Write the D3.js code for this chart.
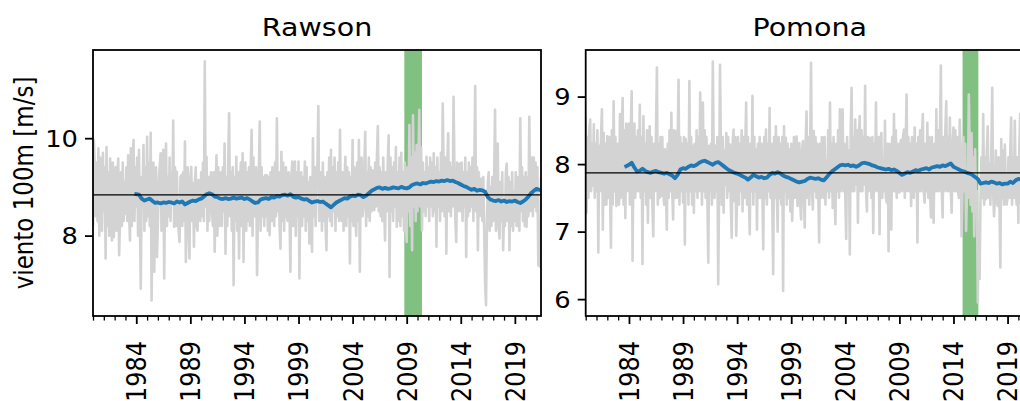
<!DOCTYPE html>
<html><head><meta charset="utf-8">
<script src="https://cdn.jsdelivr.net/npm/d3@7"></script>
<style>
html,body{margin:0;padding:0;background:#fff;}
svg{display:block;font-family:"DejaVu Sans",sans-serif;}
</style>
</head><body>
<svg id="chart" width="1020" height="401"></svg>
<script>
// ---------------- DATA ----------------
const startYear = 1980;            // monthly series start (Jan 1980)
const endYear = 2021.4167;         // last month shown (Jun 2021)
const titles = ["Rawson", "Pomona"];
const yLabel = "viento 100m [m/s]";
const majorYears = [1984, 1989, 1994, 1999, 2004, 2009, 2014, 2019];
const rawsonYTicks = [8, 10];
const pomonaYTicks = [6, 7, 8, 9];

// monthly wind speed at 100 m, Rawson (one row per year)
const rawsonWind = [
8.2,9.96,9.4,8.4,9.5,8.3,9.79,8.0,9.6,8.6,8.1,9.7,
8.5,9.4,7.53,9.82,8.2,9.3,8.0,9.58,8.4,7.9,9.5,7.97,
8.3,9.4,8.1,9.2,9.58,7.6,8.4,9.3,8.2,9.5,8.3,9.1,
8.45,9.4,8.3,9.65,8.5,7.9,9.79,8.2,9.5,9.96,8.3,9.4,
8.6,9.6,8.0,9.76,8.3,6.91,9.2,8.9,9.86,8.1,9.4,8.3,
10.03,8.4,9.5,8.2,10.11,6.67,8.5,9.5,7.26,9.2,9.4,7.56,
8.3,9.1,9.4,9.69,8.1,9.3,9.76,7.12,9.1,9.89,8.2,9.2,
8.4,9.6,8.3,9.3,8.7,10.36,8.18,9.4,8.2,9.31,8.5,8.1,
7.87,9.2,9.24,8.2,9.3,8.3,9.93,7.46,9.1,9.4,8.1,7.53,
9.2,9.41,8.3,9.07,7.77,9.1,9.4,8.2,8.1,9.14,9.1,8.3,
9.3,8.4,9.5,8.3,11.58,8.6,9.62,8.1,9.2,8.3,9.1,9.3,
8.5,8.2,9.3,7.67,8.9,9.65,8.0,9.4,8.2,9.1,9.3,8.2,
9.4,8.5,9.89,7.63,9.2,8.2,9.5,10.51,8.4,9.3,8.1,9.4,
6.98,9.2,8.3,9.62,8.1,9.3,7.53,9.1,9.5,8.2,9.69,7.46,
9.2,9.5,8.1,9.3,8.3,9.4,8.2,9.4,10.17,8.0,9.6,8.4,
8.6,9.4,7.19,8.4,9.3,10.34,8.1,9.4,8.4,9.2,8.2,9.24,
8.4,9.24,8.1,9.2,8.01,9.3,8.3,9.4,8.5,8.2,9.5,8.4,
10.41,8.5,9.3,8.2,7.73,9.72,8.3,9.5,8.1,9.2,9.4,8.4,
8.3,9.3,8.5,7.26,9.2,9.52,8.2,9.1,9.52,8.0,9.3,8.4,
9.52,7.12,9.1,9.3,8.2,9.2,8.4,9.52,8.1,9.4,8.3,9.1,
7.84,9.2,8.3,7.67,10.0,8.4,9.4,8.2,9.2,9.5,10.66,8.3,
8.6,9.3,8.1,9.5,8.3,9.2,8.2,7.7,9.3,8.4,9.6,8.3,
9.76,8.2,9.4,8.5,9.6,8.1,9.3,8.4,9.5,8.3,10.17,8.6,
8.3,9.3,8.1,9.1,9.62,8.2,9.4,8.4,9.3,7.43,9.2,8.3,
9.96,8.2,9.4,8.5,8.0,9.5,8.3,9.96,7.26,9.2,9.6,8.4,
8.6,9.4,10.13,8.2,9.3,8.4,9.6,8.3,9.4,8.5,9.34,8.6,
8.52,9.5,8.6,9.6,10.25,8.5,9.4,8.4,9.3,8.3,9.6,8.6,
7.9,9.3,8.5,9.5,10.06,7.15,9.6,8.5,9.4,8.3,9.5,8.6,
9.82,8.18,9.3,8.3,9.6,8.2,9.7,8.4,9.3,8.1,9.5,8.3,
7.87,9.4,8.5,10.27,8.2,9.6,7.7,10.47,8.6,9.7,8.3,9.86,
8.5,9.6,10.58,8.6,9.8,8.11,9.5,8.5,9.3,8.4,9.62,8.6,
9.4,8.3,9.6,8.6,9.5,8.4,9.69,8.5,9.4,7.77,9.6,8.6,
9.3,8.3,9.7,8.5,10.71,9.3,8.4,9.6,7.63,9.4,10.1,8.5,
9.5,8.4,9.4,8.6,10.85,9.3,8.3,7.87,9.5,8.5,9.4,9.48,
8.5,9.5,8.3,9.3,8.6,9.6,7.56,9.3,8.4,9.5,8.5,9.4,
8.6,9.6,8.3,9.3,11.07,8.5,9.4,7.7,9.3,8.4,8.6,9.17,
8.3,9.2,8.1,7.02,6.57,8.2,9.1,9.3,8.1,9.0,8.2,9.2,
8.3,9.1,10.58,8.1,8.9,9.89,8.2,7.94,9.1,8.3,9.3,7.7,
8.5,8.2,9.3,9.48,8.3,9.2,7.7,9.1,8.2,9.3,8.1,8.9,
8.3,9.3,8.2,9.2,8.4,8.1,10.41,8.5,9.4,8.3,9.2,8.2,
9.3,8.18,9.2,8.4,10.44,8.5,9.4,9.6,8.4,9.6,8.6,9.5,
8.5,9.4,7.39,8.3,7.36,9.2
];

// monthly wind speed at 100 m, Pomona (one row per year)
const pomonaWind = [
8.69,7.28,8.4,7.5,8.5,8.66,7.6,8.3,7.68,8.59,7.5,8.3,
7.6,8.5,6.69,8.27,7.6,8.4,8.81,7.03,8.46,7.4,8.3,7.4,
8.41,7.5,8.4,7.6,6.76,8.5,7.4,8.93,7.6,8.4,7.38,8.3,
7.7,7.4,8.74,7.5,8.5,8.98,7.4,8.5,7.2,8.6,7.6,8.4,
8.6,7.4,8.5,9.08,6.57,8.3,8.6,7.5,8.4,7.6,8.5,7.6,
8.88,7.5,8.4,6.52,8.71,7.6,8.3,7.4,8.5,7.13,8.2,8.56,
7.5,8.4,7.4,6.93,8.3,7.6,8.5,9.43,7.4,8.3,7.5,8.4,
7.53,8.4,7.6,7.4,8.22,7.6,7.03,8.3,7.5,8.5,7.6,8.76,
7.6,7.18,8.5,7.5,8.49,7.5,8.3,9.25,7.4,8.4,7.6,8.3,
7.43,8.4,6.81,8.37,7.6,8.3,7.4,9.23,7.6,8.4,7.4,8.27,
7.28,8.3,7.6,8.5,7.5,8.4,7.6,9.06,8.2,7.4,8.91,7.6,
8.5,7.5,8.4,7.5,6.54,8.27,7.6,8.3,7.4,9.52,8.2,7.5,
8.27,7.6,8.4,6.22,7.6,9.47,8.2,7.4,8.4,7.28,8.2,7.7,
8.46,7.5,8.4,7.6,8.29,7.4,6.91,8.3,8.51,7.45,8.4,6.94,
7.6,8.4,7.4,8.3,7.6,8.5,7.3,8.4,7.5,8.2,8.91,7.4,
8.4,7.5,6.96,8.3,7.6,9.01,7.4,8.4,7.6,8.22,7.03,8.3,
7.5,8.4,7.5,8.3,7.6,6.74,8.4,7.5,8.51,7.4,8.3,7.6,
8.83,7.5,8.3,7.4,6.37,8.4,7.5,8.56,7.6,7.0,8.4,7.5,
8.3,7.4,8.4,6.12,8.56,7.6,8.39,7.4,8.3,7.5,8.22,7.3,
8.3,7.16,7.6,8.4,7.5,8.3,8.41,7.38,7.6,8.31,7.4,7.18,
8.2,8.34,7.5,7.06,8.3,8.78,7.5,8.4,7.4,8.2,9.5,7.6,
7.33,8.49,7.6,8.4,7.5,8.3,7.6,6.84,8.3,7.5,8.4,8.39,
7.5,8.4,7.4,8.05,7.6,8.5,7.5,8.91,7.6,8.3,7.35,8.4,
7.6,7.11,8.3,7.6,8.5,7.5,8.81,7.6,8.4,8.81,7.6,8.3,
7.5,6.89,8.4,7.6,8.2,6.66,8.5,9.13,7.6,8.4,7.6,8.66,
7.7,8.5,7.13,8.4,8.71,7.6,8.5,7.6,8.4,7.7,9.16,7.6,
7.3,8.4,7.6,8.39,8.2,7.5,8.4,6.98,8.3,7.6,8.91,7.7,
7.6,8.4,6.96,8.3,8.46,7.5,8.07,7.6,8.64,7.5,7.43,8.3,
6.71,8.3,7.5,7.03,8.4,7.6,8.74,7.6,8.5,7.5,8.3,7.6,
7.58,8.3,8.36,7.6,8.4,8.51,7.5,8.3,9.03,7.6,8.4,7.6,
8.3,7.38,8.4,7.6,7.5,8.54,7.6,8.3,6.84,8.4,7.6,8.5,
7.6,8.4,8.74,7.6,7.43,8.3,7.6,8.61,7.5,8.4,7.6,7.21,
8.4,7.6,7.13,8.3,7.6,8.81,7.6,8.5,7.6,8.4,9.46,7.6,
7.21,8.4,7.6,8.5,8.93,7.6,8.4,7.6,8.69,7.6,7.28,8.3,
8.54,7.6,8.5,7.6,8.4,7.6,7.5,8.66,8.2,6.93,7.6,8.4,
7.6,8.3,7.01,7.6,7.5,9.03,8.2,7.4,8.46,7.3,8.1,6.93,
8.22,7.3,7.6,5.95,7.1,6.3,7.5,8.1,7.5,8.74,7.4,8.1,
7.48,8.2,8.56,7.5,8.0,7.4,8.2,9.13,7.6,7.23,7.5,8.2,
7.5,7.38,8.1,7.4,6.47,8.37,7.5,8.2,7.4,8.29,7.6,7.4,
7.53,8.1,7.5,8.2,8.69,7.4,8.1,7.5,8.64,7.7,7.4,8.1,
7.13,8.2,8.74,7.5,8.1,7.4,8.3,7.09,8.2,7.5,8.4,7.6,
8.2,7.5,8.3,7.4,8.1,7.5
];

// moving average (quarterly samples), Rawson, from 1984.0
const rawsonRollingStart = 1984.0;
const rawsonRolling = [
8.85,8.84,8.76,8.72, 8.74,8.76,8.71,8.67, 8.68,8.66,8.68,8.67, 8.69,8.68,8.66,8.70,
8.68,8.70,8.64,8.67, 8.70,8.72,8.71,8.74, 8.76,8.80,8.85,8.87, 8.85,8.80,8.79,8.76,
8.75,8.77,8.75,8.76, 8.78,8.76,8.77,8.78, 8.75,8.77,8.74,8.70, 8.67,8.68,8.74,8.76,
8.77,8.75,8.79,8.78, 8.81,8.80,8.83,8.84, 8.82,8.85,8.80,8.78, 8.79,8.76,8.74,8.75,
8.71,8.68,8.70,8.71, 8.69,8.70,8.66,8.62, 8.58,8.63,8.68,8.71, 8.74,8.77,8.76,8.80,
8.82,8.81,8.84,8.83, 8.79,8.82,8.87,8.92, 8.95,8.98,8.99,8.96, 8.98,8.96,8.97,8.99,
8.98,8.97,9.00,8.98, 8.97,8.99,9.04,9.06, 9.07,9.05,9.08,9.07, 9.09,9.11,9.10,9.12,
9.11,9.13,9.12,9.14, 9.12,9.13,9.10,9.08, 9.05,9.02,9.00,8.97, 8.94,8.96,8.92,8.94,
8.93,8.90,8.79,8.74, 8.72,8.71,8.73,8.70, 8.72,8.69,8.71,8.70, 8.72,8.69,8.67,8.70,
8.74,8.80,8.87,8.92, 8.96,8.94,8.92
];

// moving average (quarterly samples), Pomona, from 1983.75
const pomonaRollingStart = 1983.75;
const pomonaRolling = [
7.97,
7.99,8.02,7.95,7.89, 7.90,7.93,7.90,7.88, 7.87,7.89,7.90,7.88, 7.87,7.86,7.87,7.85,
7.83,7.79,7.84,7.92, 7.94,7.93,7.96,7.98, 7.97,7.99,8.02,8.04, 8.05,8.03,8.01,7.99,
8.02,8.03,8.00,7.97, 7.94,7.91,7.89,7.87, 7.86,7.84,7.82,7.80, 7.77,7.80,7.84,7.82,
7.80,7.81,7.79,7.80, 7.84,7.87,7.86,7.88, 7.86,7.83,7.81,7.80, 7.78,7.76,7.74,7.73,
7.74,7.75,7.78,7.80, 7.79,7.78,7.79,7.77, 7.76,7.80,7.85,7.89, 7.92,7.95,7.98,7.99,
7.98,7.99,7.97,7.98, 7.96,7.98,8.01,8.02, 8.01,8.00,7.98,7.97, 7.95,7.94,7.93,7.92,
7.93,7.91,7.92,7.90, 7.87,7.84,7.86,7.88, 7.87,7.89,7.91,7.90, 7.92,7.93,7.94,7.92,
7.95,7.96,7.97,7.96, 7.98,7.97,7.99,8.01, 7.96,7.94,7.92,7.90, 7.89,7.87,7.86,7.84,
7.81,7.78,7.71,7.72, 7.73,7.72,7.74,7.73, 7.71,7.72,7.70,7.71, 7.71,7.74,7.72,7.76,
7.78,7.77,7.79,7.80, 7.78,7.79,7.80
];

// long-term means (horizontal reference lines)
const rawsonMean = 8.835;
const pomonaMean = 7.87;
// highlighted periods (shaded)
const rawsonBand = [2008.78, 2010.41];
const pomonaBand = [2014.84, 2016.30];
const rawsonYDomain = [6.35, 11.81];
const pomonaYDomain = [5.75, 9.69];

// ---------------- LAYOUT ----------------
const svg = d3.select("#chart");
const marginTop = 50, H = 266, W = 448;
const sx = 1.12; // horizontal glyph stretch of the reference
const panels = [
  {title: titles[0], wind: rawsonWind, roll: rawsonRolling, rollStart: rawsonRollingStart,
   mean: rawsonMean, band: rawsonBand, yDomain: rawsonYDomain, yTicks: rawsonYTicks, left: 93, ylab: true},
  {title: titles[1], wind: pomonaWind, roll: pomonaRolling, rollStart: pomonaRollingStart,
   mean: pomonaMean, band: pomonaBand, yDomain: pomonaYDomain, yTicks: pomonaYTicks, left: 585.7, ylab: false}
];
const minorYears = d3.range(1980, 2022).filter(y => !majorYears.includes(y));

panels.forEach((p, k) => {
  const x = d3.scaleLinear().domain([startYear, endYear]).range([0, W]);
  const y = d3.scaleLinear().domain(p.yDomain).range([H, 0]);
  const g = svg.append("g").attr("transform", `translate(${p.left},${marginTop})`);

  const clipId = "clip" + k;
  g.append("clipPath").attr("id", clipId).append("rect")
    .attr("x", 0).attr("y", 0).attr("width", W).attr("height", H);
  const plot = g.append("g").attr("clip-path", `url(#${clipId})`);

  // shaded band
  plot.append("rect")
    .attr("x", x(p.band[0])).attr("width", x(p.band[1]) - x(p.band[0]))
    .attr("y", 0).attr("height", H)
    .attr("fill", "#80c080");

  // monthly series
  const line = d3.line().x(d => x(d[0])).y(d => y(d[1]));
  const monthly = p.wind.map((v, i) => [startYear + i / 12, v]);
  plot.append("path").datum(monthly).attr("d", line)
    .attr("fill", "none").attr("stroke", "#d3d3d3").attr("stroke-width", 2.6)
    .attr("stroke-linejoin", "round");

  // moving average
  const rolling = p.roll.map((v, i) => [p.rollStart + i * 0.25, v]);
  plot.append("path").datum(rolling).attr("d", line)
    .attr("fill", "none").attr("stroke", "#1f77b4").attr("stroke-width", 3.8)
    .attr("stroke-linejoin", "round").attr("stroke-linecap", "square");

  // mean line
  plot.append("line")
    .attr("x1", 0).attr("x2", W).attr("y1", y(p.mean)).attr("y2", y(p.mean))
    .attr("stroke", "#000").attr("stroke-width", 1.2);

  // x axis: minor ticks
  const gxMinor = g.append("g").attr("transform", `translate(0,${H})`)
    .call(d3.axisBottom(x).tickValues(minorYears).tickSize(4.6).tickFormat(""));
  gxMinor.select(".domain").remove();
  gxMinor.selectAll("line").attr("stroke", "#000").attr("stroke-width", 1.3);

  // x axis: major ticks + labels
  const gx = g.append("g").attr("transform", `translate(0,${H})`)
    .call(d3.axisBottom(x).tickValues(majorYears).tickSize(8).tickFormat(d3.format("d")));
  gx.select(".domain").remove();
  gx.selectAll("line").attr("stroke", "#000").attr("stroke-width", 1.8);
  gx.selectAll("text")
    .attr("x", 0).attr("y", 0).attr("dy", "0.35em")
    .attr("transform", `translate(0,25) scale(${sx},1) rotate(-90)`)
    .attr("text-anchor", "end")
    .attr("font-size", 24).attr("font-family", "DejaVu Sans").attr("fill", "#000");

  // y axis
  const gy = g.append("g")
    .call(d3.axisLeft(y).tickValues(p.yTicks).tickSize(8).tickFormat(d3.format("d")));
  gy.select(".domain").remove();
  gy.selectAll("line").attr("stroke", "#000").attr("stroke-width", 1.8);
  gy.selectAll("text")
    .attr("x", 0).attr("dy", "0.35em")
    .attr("transform", `translate(-15,0) scale(${sx},1)`)
    .attr("text-anchor", "end")
    .attr("font-size", 23).attr("font-family", "DejaVu Sans").attr("fill", "#000");

  // frame
  g.append("rect").attr("x", 0).attr("y", 0).attr("width", W).attr("height", H)
    .attr("fill", "none").attr("stroke", "#000").attr("stroke-width", 1.8);

  // title
  svg.append("text")
    .attr("transform", `translate(${p.left + W / 2},36) scale(${sx},1)`)
    .attr("text-anchor", "middle")
    .attr("font-size", 25.5).attr("fill", "#000")
    .text(p.title);

  if (p.ylab) {
    svg.append("text")
      .attr("transform", `translate(33,${marginTop + H / 2}) scale(${sx},1) rotate(-90)`)
      .attr("text-anchor", "middle")
      .attr("font-size", 23).attr("fill", "#000")
      .text(yLabel);
  }
});
</script>
</body></html>
